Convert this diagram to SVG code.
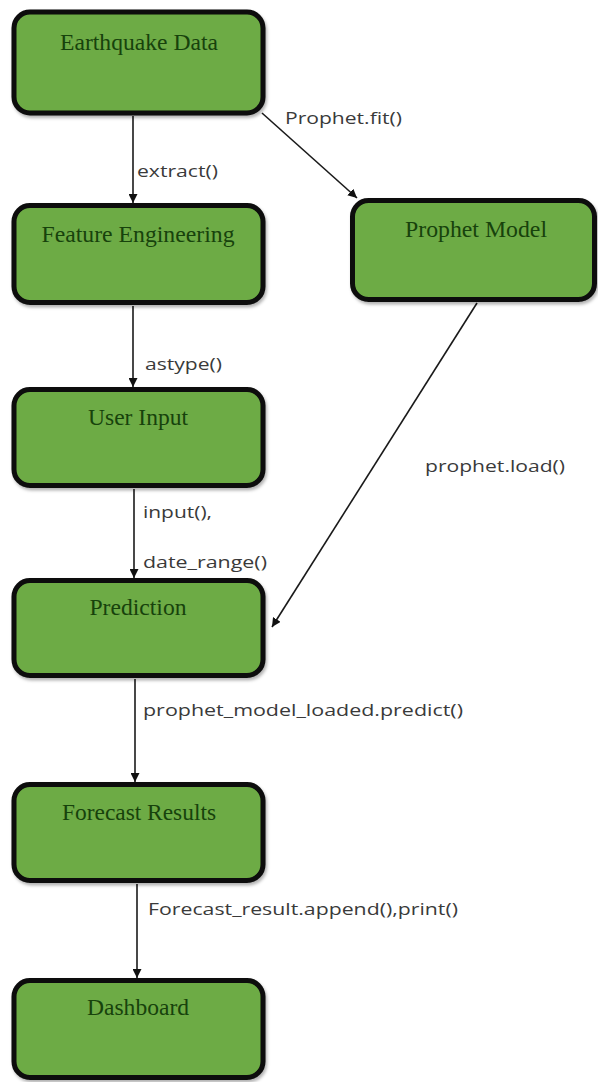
<svg xmlns="http://www.w3.org/2000/svg" width="598" height="1082" viewBox="0 0 598 1082">
  <defs>
    <marker id="arrow" viewBox="0 0 10 10" refX="10" refY="5" markerWidth="9" markerHeight="9" markerUnits="userSpaceOnUse" orient="auto">
      <path d="M0,0 L10,5 L0,10 z" fill="#111"/>
    </marker>
    <filter id="shadow" x="-10%" y="-10%" width="125%" height="130%">
      <feDropShadow dx="1.5" dy="2.5" stdDeviation="1.5" flood-color="#000" flood-opacity="0.3"/>
    </filter>
  </defs>
  <style>
    .box { fill: #6dab45; stroke: #0a0a0a; stroke-width: 5; filter: url(#shadow); }
    .title { font-family: "Liberation Serif", "Times New Roman", serif; font-size: 23px; fill: #17420c; text-anchor: middle; }
    .edge { stroke: #1a1a1a; stroke-width: 1.6; fill: none; marker-end: url(#arrow); }
    .label { font-family: "Open Sans", "Liberation Sans", sans-serif; font-size: 17px; fill: #3a3a3a; }
  </style>
  <rect width="598" height="1082" fill="#ffffff"/>

  <g id="connectors">
    <line class="edge" x1="133" y1="116" x2="133" y2="203"/>
    <line class="edge" x1="262" y1="113" x2="357" y2="198"/>
    <line class="edge" x1="133" y1="306" x2="133" y2="387"/>
    <line class="edge" x1="134" y1="489" x2="134" y2="578"/>
    <line class="edge" x1="477" y1="303" x2="272" y2="627"/>
    <line class="edge" x1="135" y1="679" x2="135" y2="782"/>
    <line class="edge" x1="137" y1="884" x2="137" y2="978"/>
    <text class="label" x="137" y="177" textLength="81" lengthAdjust="spacingAndGlyphs">extract()</text>
    <text class="label" x="285" y="124" textLength="117" lengthAdjust="spacingAndGlyphs">Prophet.fit()</text>
    <text class="label" x="145" y="370" textLength="77" lengthAdjust="spacingAndGlyphs">astype()</text>
    <text class="label" x="143" y="518" textLength="69" lengthAdjust="spacingAndGlyphs">input(),</text>
    <text class="label" x="143" y="568" textLength="124" lengthAdjust="spacingAndGlyphs">date_range()</text>
    <text class="label" x="425" y="472" textLength="140" lengthAdjust="spacingAndGlyphs">prophet.load()</text>
    <text class="label" x="143" y="716" textLength="320" lengthAdjust="spacingAndGlyphs">prophet_model_loaded.predict()</text>
    <text class="label" x="148" y="915" textLength="310" lengthAdjust="spacingAndGlyphs">Forecast_result.append(),print()</text>
  </g>

  <g id="earthquake-data">
    <rect class="box" x="14" y="12" width="249" height="101" rx="16"/>
    <text class="title" x="139" y="50" textLength="158" lengthAdjust="spacingAndGlyphs">Earthquake Data</text>
  </g>
  <g id="feature-engineering">
    <rect class="box" x="14" y="205.5" width="249" height="97" rx="16"/>
    <text class="title" x="138" y="242" textLength="193" lengthAdjust="spacingAndGlyphs">Feature Engineering</text>
  </g>
  <g id="prophet-model">
    <rect class="box" x="352.5" y="200.5" width="242" height="99" rx="16"/>
    <text class="title" x="476" y="237" textLength="142" lengthAdjust="spacingAndGlyphs">Prophet Model</text>
  </g>
  <g id="user-input">
    <rect class="box" x="14" y="389.5" width="249" height="96" rx="16"/>
    <text class="title" x="138" y="425" textLength="100" lengthAdjust="spacingAndGlyphs">User Input</text>
  </g>
  <g id="prediction">
    <rect class="box" x="14" y="580.5" width="249" height="95" rx="16"/>
    <text class="title" x="138" y="615" textLength="97" lengthAdjust="spacingAndGlyphs">Prediction</text>
  </g>
  <g id="forecast-results">
    <rect class="box" x="14" y="784.5" width="249" height="96" rx="16"/>
    <text class="title" x="139" y="820" textLength="154" lengthAdjust="spacingAndGlyphs">Forecast Results</text>
  </g>
  <g id="dashboard">
    <rect class="box" x="14" y="980.5" width="249" height="97" rx="16"/>
    <text class="title" x="138" y="1015" textLength="102" lengthAdjust="spacingAndGlyphs">Dashboard</text>
  </g>
</svg>
